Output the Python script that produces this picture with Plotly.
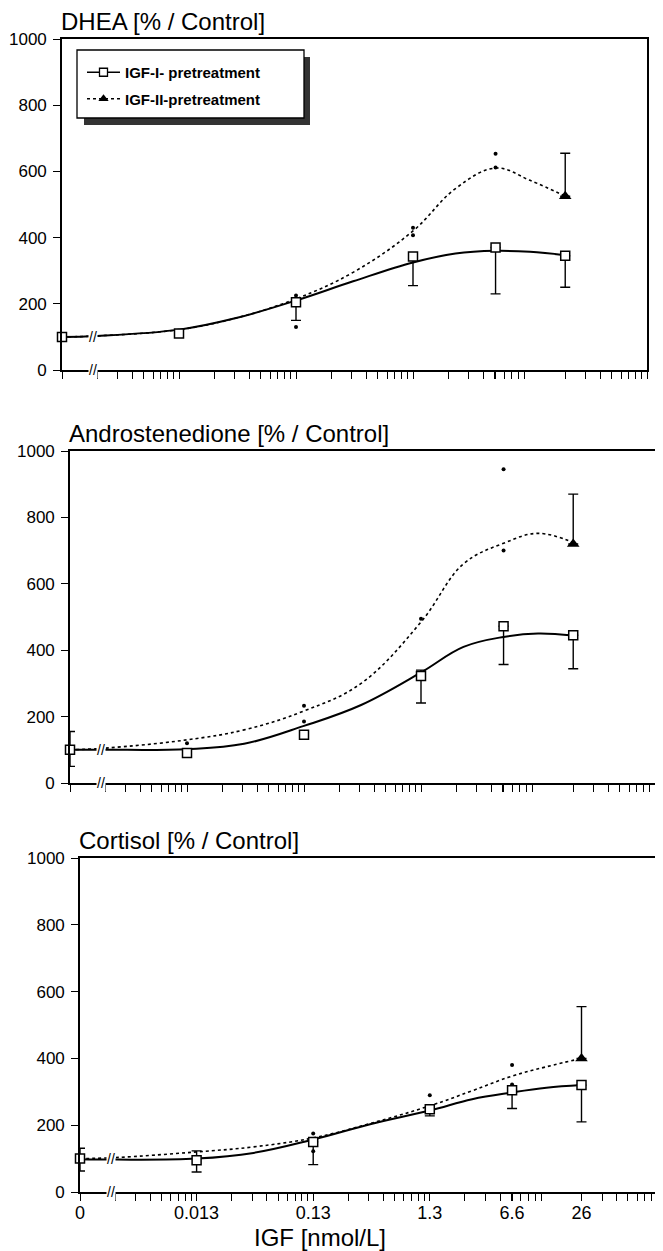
import math
import plotly.graph_objects as go

# ---------------- data ----------------
doses = [0, 0.013, 0.13, 1.3, 6.6, 26]
dose_labels = ["0", "0.013", "0.13", "1.3", "6.6", "26"]
curve_doses = [0, 0.0026, 0.013, 0.04, 0.13, 0.4, 1.3, 3.0, 6.6, 13, 26]

# DHEA
dhea_igf1_mean = [100, 110, 205, 343, 370, 345]
dhea_igf1_err_plus = [0, 0, 0, 0, 0, 0]
dhea_igf1_err_minus = [0, 0, 55, 88, 140, 95]
dhea_igf2_dose = [26]
dhea_igf2_mean = [525]
dhea_igf2_err_plus = [130]
dhea_igf2_dot_dose = [0.13, 0.13, 1.3, 1.3, 6.6, 6.6]
dhea_igf2_dot_val = [225, 130, 430, 407, 653, 612]
dhea_igf1_curve = [100, 103, 122, 157, 210, 268, 325, 352, 360, 357, 347]
dhea_igf2_curve = [100, 103, 122, 157, 215, 295, 420, 548, 610, 573, 525]

# Androstenedione
andro_igf1_mean = [100, 90, 145, 322, 472, 445]
andro_igf1_err_plus = [55, 0, 0, 18, 0, 0]
andro_igf1_err_minus = [50, 0, 0, 81, 115, 101]
andro_igf2_dose = [26]
andro_igf2_mean = [720]
andro_igf2_err_plus = [150]
andro_igf2_dot_dose = [0.013, 0.13, 0.13, 1.3, 6.6, 6.6]
andro_igf2_dot_val = [120, 233, 185, 495, 945, 700]
andro_igf1_curve = [100, 100, 102, 118, 172, 235, 333, 410, 440, 450, 444]
andro_igf2_curve = [100, 105, 130, 160, 217, 300, 485, 660, 722, 752, 724]

# Cortisol
cort_igf1_mean = [100, 95, 150, 248, 305, 320]
cort_igf1_err_plus = [31, 28, 0, 0, 0, 0]
cort_igf1_err_minus = [37, 35, 68, 20, 55, 110]
cort_igf2_dose = [26]
cort_igf2_mean = [400]
cort_igf2_err_plus = [155]
cort_igf2_dot_dose = [0.13, 0.13, 1.3, 6.6, 6.6]
cort_igf2_dot_val = [175, 122, 290, 380, 322]
cort_igf1_curve = [98, 97, 100, 117, 157, 203, 244, 278, 298, 312, 320]
cort_igf2_curve = [100, 103, 120, 135, 162, 205, 258, 303, 347, 375, 400]

panel_titles = ["DHEA [% / Control]", "Androstenedione [% / Control]", "Cortisol [% / Control]"]
x_title = "IGF [nmol/L]"
legend_names = ["IGF-I- pretreatment", "IGF-II-pretreatment"]
y_ticks = [0, 200, 400, 600, 800, 1000]

# ---------------- axis scale settings ----------------
ZERO_AT = 0.0013      # position on the log axis where dose "0" is drawn
X_END = 130           # right end of the log axis
BREAK_AT = 0.0024     # axis-break marks "//"

def xpos(values):
    return [ZERO_AT if v == 0 else v for v in values]

# page body has an 8px margin: the figure is drawn at (8, 8) in the window
OFF = 8
WIN_W, WIN_H = 663, 1251
W, H = WIN_W - OFF, WIN_H - OFF
FONT = "Liberation Sans, Arial, Helvetica, sans-serif"

def py(p):
    return 1 - (p - OFF) / H

def px(p):
    return (p - OFF) / W

# panel frames in window pixels (the scanned figure is slightly rotated)
x_frames = [(62, 647), (70, 655), (80, 663)]
y_frames = [(39, 370), (451, 783), (858, 1192)]

panels = [
    dict(m1=dhea_igf1_mean, p1=dhea_igf1_err_plus, n1=dhea_igf1_err_minus,
         d2=dhea_igf2_dose, m2=dhea_igf2_mean, p2=dhea_igf2_err_plus,
         dd=dhea_igf2_dot_dose, dv=dhea_igf2_dot_val,
         c1=dhea_igf1_curve, c2=dhea_igf2_curve),
    dict(m1=andro_igf1_mean, p1=andro_igf1_err_plus, n1=andro_igf1_err_minus,
         d2=andro_igf2_dose, m2=andro_igf2_mean, p2=andro_igf2_err_plus,
         dd=andro_igf2_dot_dose, dv=andro_igf2_dot_val,
         c1=andro_igf1_curve, c2=andro_igf2_curve),
    dict(m1=cort_igf1_mean, p1=cort_igf1_err_plus, n1=cort_igf1_err_minus,
         d2=cort_igf2_dose, m2=cort_igf2_mean, p2=cort_igf2_err_plus,
         dd=cort_igf2_dot_dose, dv=cort_igf2_dot_val,
         c1=cort_igf1_curve, c2=cort_igf2_curve),
]

fig = go.Figure()

minor_vals = [k * ZERO_AT * 10 ** n for n in range(5) for k in range(2, 10)] + [X_END]

for i, p in enumerate(panels):
    xa = "x" if i == 0 else f"x{i+1}"
    ya = "y" if i == 0 else f"y{i+1}"
    fig.add_trace(go.Scatter(x=xpos(curve_doses), y=p["c2"], mode="lines", xaxis=xa, yaxis=ya,
                             line=dict(color="black", width=1.6, dash="dot", shape="spline", smoothing=1.1),
                             showlegend=False, hoverinfo="skip"))
    fig.add_trace(go.Scatter(x=xpos(curve_doses), y=p["c1"], mode="lines", xaxis=xa, yaxis=ya,
                             line=dict(color="black", width=2, shape="spline", smoothing=1.1),
                             showlegend=False, hoverinfo="skip"))
    fig.add_trace(go.Scatter(x=xpos(p["dd"]), y=p["dv"], mode="markers", xaxis=xa, yaxis=ya,
                             marker=dict(symbol="circle", size=4, color="black"),
                             showlegend=False, cliponaxis=False))
    fig.add_trace(go.Scatter(x=xpos(doses), y=p["m1"], mode="markers", xaxis=xa, yaxis=ya,
                             marker=dict(symbol="square", size=9, color="white",
                                         line=dict(color="black", width=1.5)),
                             error_y=dict(type="data", symmetric=False, array=p["p1"],
                                          arrayminus=p["n1"], color="black", thickness=1.4, width=5),
                             showlegend=False, cliponaxis=False))
    fig.add_trace(go.Scatter(x=xpos(p["d2"]), y=p["m2"], mode="markers", xaxis=xa, yaxis=ya,
                             marker=dict(symbol="triangle-up", size=11, color="black"),
                             error_y=dict(type="data", symmetric=False, array=p["p2"],
                                          arrayminus=[0] * len(p["d2"]), color="black",
                                          thickness=1.4, width=5),
                             showlegend=False, cliponaxis=False))

# legend entries
fig.add_trace(go.Scatter(x=[None], y=[None], mode="lines+markers", name=legend_names[0],
                         legendgroup="a",
                         line=dict(color="black", width=1.5),
                         marker=dict(symbol="square", size=8, color="white", line=dict(color="black", width=1.3))))
fig.add_trace(go.Scatter(x=[None], y=[None], mode="lines+markers", name=legend_names[1],
                         legendgroup="b",
                         line=dict(color="black", width=1.5, dash="dot"),
                         marker=dict(symbol="triangle-up", size=9, color="black")))

axis_line = dict(showline=True, linecolor="black", linewidth=1.6, mirror=True, showgrid=False,
                 zeroline=False, automargin=False)

layout = dict(
    width=W, height=H, margin=dict(l=0, r=0, t=0, b=0, autoexpand=False),
    paper_bgcolor="white", plot_bgcolor="white",
    font=dict(family=FONT, color="black", size=18),
    legend=dict(x=px(82), y=py(56), xanchor="left", yanchor="top", bgcolor="rgba(0,0,0,0)",
                borderwidth=0, traceorder="grouped", tracegroupgap=4,
                font=dict(family="Liberation Sans, Arial, sans-serif", size=15, color="black",
                          weight="bold"),
                itemwidth=33),
    showlegend=True,
)

annotations = []
shapes = []
for i in range(3):
    xk = "xaxis" if i == 0 else f"xaxis{i+1}"
    yk = "yaxis" if i == 0 else f"yaxis{i+1}"
    xa = "x" if i == 0 else f"x{i+1}"
    ya = "y" if i == 0 else f"y{i+1}"
    xd = [px(x_frames[i][0]), min(1.0, px(x_frames[i][1]))]
    yd = [py(y_frames[i][1]), py(y_frames[i][0])]
    layout[xk] = dict(type="log", range=[math.log10(ZERO_AT), math.log10(X_END)], domain=xd,
                      anchor=ya, tickmode="array", tickvals=xpos(doses), ticktext=dose_labels,
                      showticklabels=(i == 2), ticks="outside", ticklen=7, tickwidth=1.3, tickcolor="black",
                      ticklabelstandoff=-3,
                      minor=dict(tickmode="array", tickvals=minor_vals, ticks="outside", ticklen=7,
                                 tickwidth=1.3, tickcolor="black"),
                      tickfont=dict(size=18), **axis_line)
    layout[yk] = dict(range=[0, 1000], domain=yd, anchor=xa, tickmode="array", tickvals=y_ticks,
                      ticks="outside", ticklen=7, tickwidth=1.3, tickcolor="black", ticklabelstandoff=3,
                      tickfont=dict(size=17), **axis_line)
    annotations.append(dict(text=panel_titles[i], xref="paper", yref="paper", x=px(x_frames[i][0] - 3),
                            y=yd[1], xanchor="left", yanchor="bottom", yshift=2, showarrow=False,
                            font=dict(size=24, family=FONT)))
    for yv in (0, 100):
        annotations.append(dict(text="//", xref=xa, yref=ya, x=math.log10(BREAK_AT), y=yv,
                                showarrow=False, font=dict(size=14, family=FONT), bgcolor="white",
                                borderpad=0, xanchor="center", yanchor="middle"))

annotations.append(dict(text=x_title, xref="paper", yref="paper", x=px(320), y=py(1237),
                        xanchor="center", yanchor="middle", showarrow=False, font=dict(size=24, family=FONT)))

# legend drop shadow and box
shapes.append(dict(type="rect", xref="paper", yref="paper", x0=px(84), x1=px(310), y0=py(125), y1=py(57),
                   fillcolor="#333333", line=dict(width=0), layer="above"))
shapes.append(dict(type="rect", xref="paper", yref="paper", x0=px(77), x1=px(304), y0=py(118), y1=py(50),
                   fillcolor="white", line=dict(width=1.3, color="black"), layer="above"))

layout["annotations"] = annotations
layout["shapes"] = shapes
fig.update_layout(**layout)
fig.write_html("out.html")
